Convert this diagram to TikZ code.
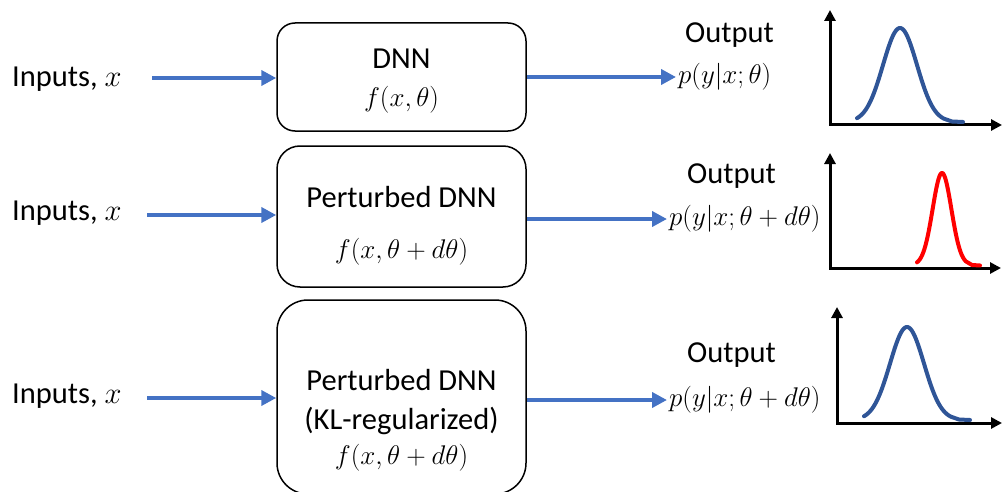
\RequirePackage{fix-cm}
\documentclass[tikz,border=0pt]{standalone}
\usepackage[no-math]{fontspec}
\setmainfont{Carlito}
\usetikzlibrary{arrows.meta}
\definecolor{flowblue}{HTML}{4472C4}
\definecolor{curveblue}{HTML}{2F5597}
\definecolor{curvered}{HTML}{FF0000}
\tikzset{
  netbox/.style={draw=black, line width=1.5pt, inner sep=0pt, minimum width=249pt},
  flow/.style={draw=flowblue, line width=4.5pt, -{Triangle[length=15pt,width=15pt]}},
  axisline/.style={draw=black, line width=3pt, line cap=rect, -{Triangle[length=11pt,width=11pt]}},
  txt/.style={font=\fontsize{30.5}{36}\selectfont, inner sep=0pt},
  mth/.style={font=\fontsize{27}{32}\selectfont, inner sep=2pt},
  dens/.style={line width=4pt, line join=round, line cap=round},
}
\begin{document}
\begin{tikzpicture}[x=1pt,y=-1pt]
\useasboundingbox (0,0) rectangle (1003,492);

% ---- boxes
\node[netbox, rounded corners=18pt, minimum height=108pt] (dnn) at (401.5,77) {};
\node[netbox, rounded corners=23pt, minimum height=141pt] (pdnn) at (401.5,216.5) {};
\node[netbox, rounded corners=31pt, minimum height=194pt] (kdnn) at (401.5,397) {};

% ---- box texts
\node[txt, anchor=base] (t1) at (401.5,69) {DNN};
\node[mth, anchor=center] (f1) at (401.5,100) {$f(x,\theta)$};
\node[txt, anchor=base] (t2) at (401.5,207) {Perturbed DNN};
\node[mth, anchor=center] (f2) at (401.5,252) {$f(x,\theta+d\theta)$};
\node[txt, anchor=base] (t3) at (401.5,390) {Perturbed DNN};
\node[txt, anchor=base] (t3b) at (401.5,429) {(KL-regularized)};
\node[mth, anchor=center] (f3) at (401.5,458) {$f(x,\theta+d\theta)$};

% ---- inputs
\node[txt, anchor=base west] (in1) at (12,87) {Inputs, $x$};
\node[txt, anchor=base west] (in2) at (12,220) {Inputs, $x$};
\node[txt, anchor=base west] (in3) at (12,403) {Inputs, $x$};
\coordinate (s1) at (152,78);
\coordinate (s2) at (147,215);
\coordinate (s3) at (147,398);
\draw[flow] (s1) -- (dnn.west |- s1);
\draw[flow] (s2) -- (pdnn.west |- s2);
\draw[flow] (s3) -- (kdnn.west |- s3);

% ---- outputs
\node[txt, anchor=base west] (o1) at (685,43) {Output};
\node[txt, anchor=base west] (o2) at (687,183) {Output};
\node[txt, anchor=base west] (o3) at (687,362) {Output};
\node[mth, anchor=west] (p1) at (676,77) {$p(y|x;\theta)$};
\node[mth, anchor=west] (p2) at (667,219) {$p(y|x;\theta+d\theta)$};
\node[mth, anchor=west] (p3) at (667,400) {$p(y|x;\theta+d\theta)$};
\draw[flow] (dnn.east |- p1) -- (p1.west);
\draw[flow] (pdnn.east |- p2) -- (p2.west);
\draw[flow] (kdnn.east |- p3) -- (p3.west);

% ---- plot 1
\coordinate (a1) at (830,125);
\coordinate (ay1) at (830,10);
\coordinate (ax1) at (1002,125);
\draw[axisline] (a1) -- (ay1);
\draw[axisline] (a1) -- (ax1);
\draw[dens, curveblue] plot[domain=857:944, samples=90, smooth] (\x,{122-94*exp(-0.5*((\x-900)/17)^2)}) -- (952,121.5) -- (963,122);

% ---- plot 2
\coordinate (a2) at (830,268);
\coordinate (ay2) at (830,153);
\coordinate (ax2) at (1001,268);
\draw[axisline] (a2) -- (ay2);
\draw[axisline] (a2) -- (ax2);
\draw[dens, curvered] plot[domain=917:966, samples=90, smooth] (\x,{265-92*exp(-0.5*((\x-942)/9.4)^2)}) -- (972,265) -- (980,265.5);

% ---- plot 3
\coordinate (a3) at (837,423);
\coordinate (ay3) at (837,307);
\coordinate (ax3) at (1002,423);
\draw[axisline] (a3) -- (ay3);
\draw[axisline] (a3) -- (ax3);
\draw[dens, curveblue] plot[domain=864:951, samples=90, smooth] (\x,{420-93*exp(-0.5*((\x-907)/17)^2)}) -- (959,419.5) -- (970,420);
\end{tikzpicture}
\end{document}
